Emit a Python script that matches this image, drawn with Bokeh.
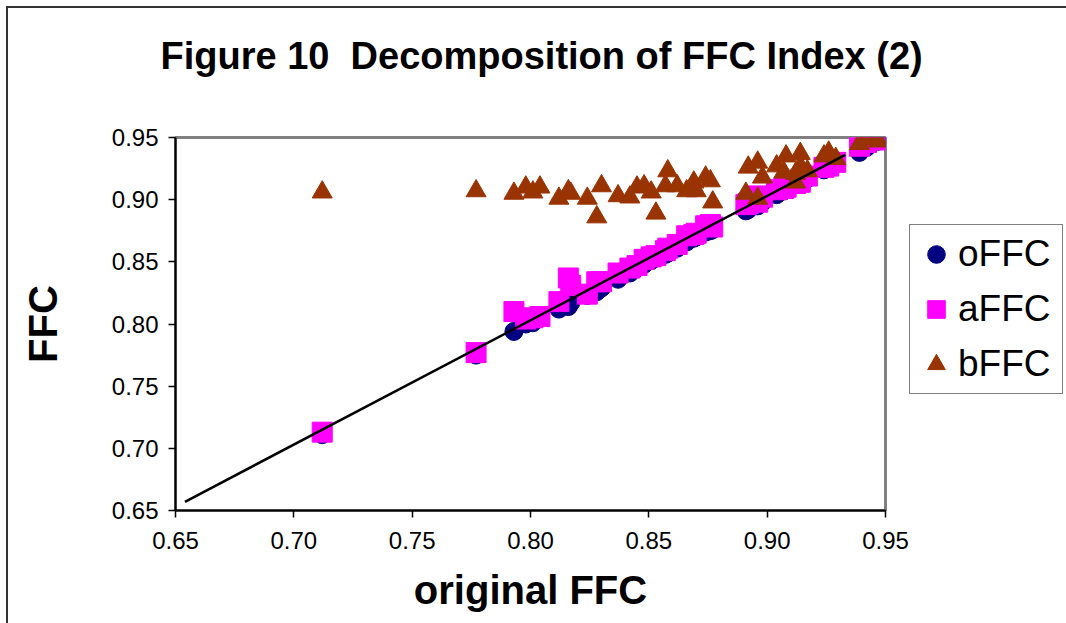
from bokeh.plotting import figure
from bokeh.models import FixedTicker, NumeralTickFormatter, Legend, LegendItem, Range1d, Title
from bokeh.embed import file_html
from bokeh.resources import INLINE

# ---- data ----
original_ffc = [0.712, 0.777, 0.793, 0.798, 0.801, 0.804, 0.812, 0.816, 0.817, 0.824,
                0.828, 0.830, 0.837, 0.842, 0.845, 0.848, 0.851, 0.853, 0.858, 0.857,
                0.862, 0.866, 0.869, 0.870, 0.874, 0.876, 0.877, 0.891, 0.896, 0.892,
                0.896, 0.898, 0.904, 0.908, 0.907, 0.912, 0.914, 0.914, 0.912, 0.917,
                0.924, 0.926, 0.929, 0.939, 0.942, 0.947]
offc = [0.711, 0.775, 0.794, 0.800, 0.801, 0.805, 0.812, 0.814, 0.817, 0.823,
        0.826, 0.829, 0.836, 0.841, 0.845, 0.848, 0.851, 0.853, 0.857, 0.856,
        0.861, 0.866, 0.869, 0.870, 0.874, 0.875, 0.876, 0.891, 0.895, 0.892,
        0.896, 0.898, 0.904, 0.908, 0.907, 0.912, 0.913, 0.913, 0.912, 0.917,
        0.924, 0.926, 0.929, 0.938, 0.942, 0.947]
affc = [0.713, 0.777, 0.810, 0.804, 0.805, 0.806, 0.818, 0.837, 0.831, 0.824,
        0.834, 0.834, 0.841, 0.845, 0.847, 0.852, 0.854, 0.855, 0.861, 0.859,
        0.864, 0.871, 0.872, 0.873, 0.879, 0.880, 0.878, 0.896, 0.898, 0.897,
        0.903, 0.902, 0.908, 0.910, 0.909, 0.915, 0.916, 0.914, 0.913, 0.919,
        0.926, 0.927, 0.930, 0.943, 0.946, 0.948]
bffc = [0.906, 0.907, 0.905, 0.910, 0.906, 0.910, 0.901, 0.907, 0.905, 0.901,
        0.886, 0.911, 0.903, 0.902, 0.910, 0.911, 0.906, 0.889, 0.923, 0.911,
        0.911, 0.907, 0.914, 0.907, 0.918, 0.915, 0.898, 0.905, 0.901, 0.926,
        0.930, 0.918, 0.927, 0.935, 0.922, 0.921, 0.937, 0.927, 0.914, 0.923,
        0.935, 0.938, 0.933, 0.945, 0.949, 0.947]
trend_x = [0.654, 0.933]
trend_y = [0.657, 0.936]
ticks = [0.65, 0.70, 0.75, 0.80, 0.85, 0.90, 0.95]

FONT = "Liberation Sans"

p = figure(frame_width=710, frame_height=373,
           min_border_left=175, min_border_top=137,
           min_border_right=181, min_border_bottom=113,
           x_range=Range1d(0.65, 0.95), y_range=Range1d(0.65, 0.95),
           output_backend="svg", toolbar_location=None,
           title="Figure 10\u00a0 Decomposition of FFC Index (2)")

# outer chart-area border (top and left edges) drawn as the page background
p.border_fill_alpha = 0
p.styles = {"background": "linear-gradient(#333333, #333333) 6px 6px / 1060px 2px no-repeat fixed, "
                          "linear-gradient(#333333, #333333) 6px 6px / 2px 617px no-repeat fixed"}

# invisible spacer between title and frame
spacer = Title(text="\u00a0", text_font_size="1px", standoff=58)
p.add_layout(spacer, "above")

p.title.align = "left"
p.title.offset = -15
p.title.vertical_align = "bottom"
p.title.text_font = FONT
p.title.text_font_size = "38px"
p.title.text_font_style = "bold"
p.title.text_color = "black"
p.title.standoff = 0

p.xgrid.visible = False
p.ygrid.visible = False
p.outline_line_color = "#808080"
p.outline_line_width = 3
p.background_fill_color = "white"

for ax in (p.xaxis[0], p.yaxis[0]):
    ax.ticker = FixedTicker(ticks=ticks)
    ax.formatter = NumeralTickFormatter(format="0.00")
    ax.axis_line_color = "black"
    ax.axis_line_width = 2
    ax.major_tick_line_color = "black"
    ax.major_tick_line_width = 1.5
    ax.major_tick_out = 7
    ax.major_tick_in = 0
    ax.minor_tick_line_color = None
    ax.major_label_text_font = FONT
    ax.major_label_text_font_size = "24px"
    ax.major_label_text_color = "black"
    ax.axis_label_text_font = FONT
    ax.axis_label_text_font_size = "40px"
    ax.axis_label_text_font_style = "bold"
    ax.axis_label_text_color = "black"

p.xaxis.axis_label = "original FFC"
p.yaxis.axis_label = "FFC"
p.xaxis.major_label_standoff = 14
p.xaxis.axis_label_standoff = 16
p.yaxis.major_label_standoff = 10
p.yaxis.axis_label_standoff = 44

r_o = p.scatter(original_ffc, offc, marker="circle", size=18,
                fill_color="#000080", line_color="#000080")
r_a = p.scatter(original_ffc, affc, marker="square", size=20,
                fill_color="#FF00FF", line_color="#FF00FF")
r_b = p.scatter(original_ffc, bffc, marker="triangle", size=20,
                fill_color="#993300", line_color="#993300")
p.line(trend_x, trend_y, line_color="black", line_width=2.5)

legend = Legend(items=[LegendItem(label="oFFC", renderers=[r_o]),
                       LegendItem(label="aFFC", renderers=[r_a]),
                       LegendItem(label="bFFC", renderers=[r_b])],
                location=(24, 116))
legend.label_text_font = FONT
legend.label_text_font_size = "37px"
legend.label_text_color = "black"
legend.glyph_width = 44
legend.glyph_height = 50
legend.label_height = 50
legend.label_width = 100
legend.spacing = 5
legend.padding = 4
legend.margin = 0
legend.border_line_color = "black"
legend.border_line_width = 1
legend.background_fill_color = "white"
legend.label_standoff = 0
p.add_layout(legend, "right")

open("out.html", "w").write(file_html(p, INLINE))
